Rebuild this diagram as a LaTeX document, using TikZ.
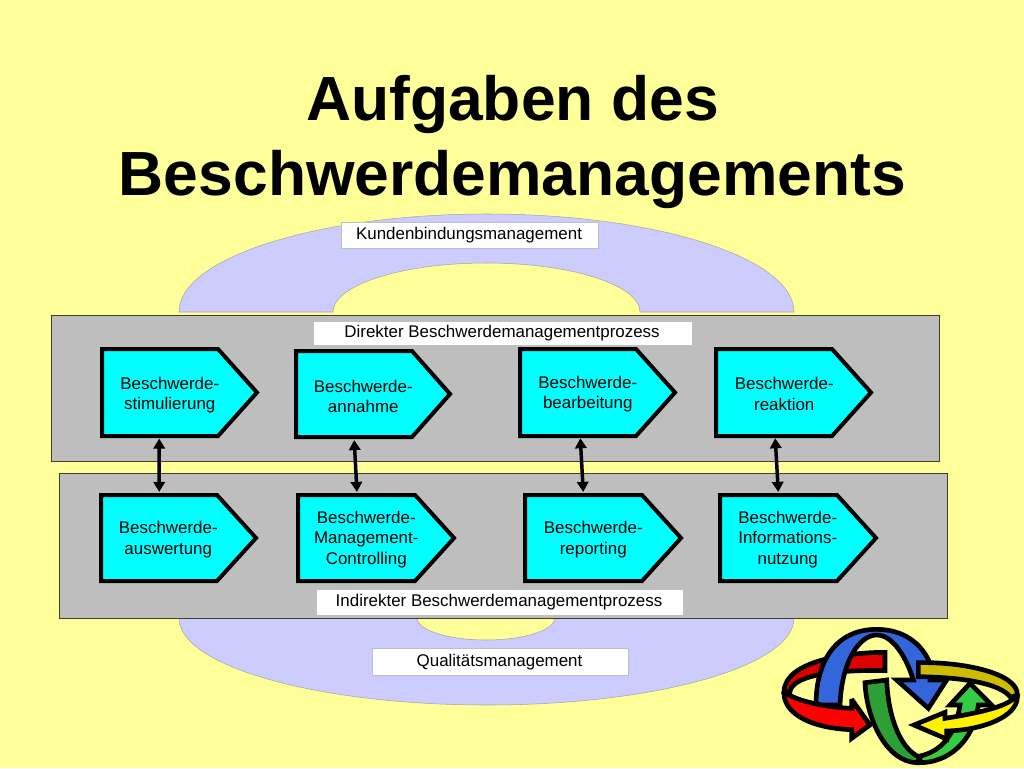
\documentclass[tikz,border=0pt]{standalone}
\usepackage{fontspec}
\setmainfont{Liberation Sans}
\definecolor{bgc}{HTML}{FFFF99}
\definecolor{ringc}{HTML}{CCCCFF}
\definecolor{panelc}{HTML}{BEBEBE}
\definecolor{stepc}{HTML}{00FFFF}
\definecolor{redback}{HTML}{DD0000}
\definecolor{blueband}{HTML}{3366DD}
\definecolor{greenlight}{HTML}{33CC44}
\definecolor{greendark}{HTML}{2CA035}
\definecolor{yellowback}{HTML}{CCBB00}
\usetikzlibrary{arrows.meta}
\tikzset{
  x=0.75pt,y=-0.75pt,
  titletext/.style={font=\fontsize{46.8pt}{56pt}\selectfont\bfseries,anchor=base,inner sep=0},
  ringband/.style={fill=ringc,draw=black!35,line width=0.4pt},
  panel/.style={fill=panelc,draw=black!75!bgc,line width=0.6pt},
  labelbox/.style={fill=white,draw=black!25,line width=0.5pt,font=\fontsize{12.7pt}{15.4pt}\selectfont,inner sep=0,anchor=north west,align=center},
  steplabel/.style={font=\fontsize{12.7pt}{15.4pt}\selectfont,inner sep=0,anchor=west,align=center,minimum height=65pt},
  stepshape/.style={fill=stepc,draw=black,line width=3pt,line join=miter},
  link/.style={line width=2.6pt,draw=black,{Triangle[length=7.5pt,width=8.5pt]}-{Triangle[length=7.5pt,width=8.5pt]}},
  logopart/.style={draw=black,line width=3.5pt,line join=miter,miter limit=3},
}
\newcommand{\lab}[1]{\raisebox{-1.3pt}{\kern-1.2pt #1}}
\newcommand{\stepbox}[8]{% name, left, top, shoulder, tip, bottom, text centre, text offset
  \draw[stepshape] (#2,#3) -- (#4,#3) -- (#5,{(#3+#6)/2}) -- (#4,#6) -- (#2,#6) -- cycle;
  \node[steplabel,minimum width={(#7-#2)*1.5pt}] (#1) at (#2,{(#3+#6)/2+#8}) {\steptext};
}
\begin{document}
\begin{tikzpicture}
\useasboundingbox[fill=bgc] (0,0) rectangle (1024,768);

\node[titletext] (title1) at (512.5,120) {Aufgaben des};
\node[titletext] (title2) at (512.5,195) {Beschwerdemanagements};

\path[ringband] (179,312) .. controls (179,258) and (317,214) .. (487,214)
  .. controls (657,214) and (794,258) .. (794,312) -- (640,312)
  .. controls (640,285) and (571,263) .. (486.5,263)
  .. controls (402,263) and (333,285) .. (333,312) -- cycle;
\path[ringband] (179,618) .. controls (179,666) and (317,705) .. (487,705)
  .. controls (657,705) and (794,666) .. (794,618) -- (555,618)
  .. controls (555,630) and (524,640) .. (486,640)
  .. controls (448,640) and (417,630) .. (417,618) -- cycle;

\path[panel] (51,315) rectangle (939,461);
\path[panel] (59,473) rectangle (947,618);

\node[labelbox,minimum width=192.75pt,minimum height=19.5pt] (kb) at (341,222) {\lab{Kundenbindungsmanagement}};
\node[labelbox,minimum width=284.25pt,minimum height=18pt] (dp) at (313,321) {\lab{Direkter Beschwerdemanagementprozess}};
\node[labelbox,minimum width=275.25pt,minimum height=19.5pt] (ip) at (316,589) {\lab{Indirekter Beschwerdemanagementprozess}};
\node[labelbox,minimum width=192pt,minimum height=20.25pt] (qm) at (372,648) {\lab{Qualitätsmanagement}};

\def\steptext{Beschwerde-\\stimulierung}\stepbox{s1}{102}{349}{218}{257}{436}{169.5}{2.5}
\def\steptext{Beschwerde-\\annahme}\stepbox{s2}{296}{351}{412}{450}{437}{363}{2.5}
\def\steptext{Beschwerde-\\bearbeitung}\stepbox{s3}{520}{349}{636}{675}{436}{587.5}{1.5}
\def\steptext{Beschwerde-\\reaktion}\stepbox{s4}{716}{349}{832}{871}{436}{784}{1.5}
\def\steptext{Beschwerde-\\auswertung}\stepbox{t1}{101}{495}{217}{256}{581}{168}{1.5}
\def\steptext{Beschwerde-\\Management-\\Controlling}\stepbox{t2}{298}{495}{415}{454}{581}{366}{1.5}
\def\steptext{Beschwerde-\\reporting}\stepbox{t3}{525}{495}{642}{681}{581}{593}{1.5}
\def\steptext{Beschwerde-\\Informations-\\nutzung}\stepbox{t4}{720}{495}{837}{876}{581}{787.5}{1.5}

\draw[link] ([xshift=-7.9pt]s1.south) -- ([xshift=-6.8pt,yshift=3pt]t1.north);
\draw[link] ([xshift=-6.8pt]s2.south) -- ([xshift=-7.0pt,yshift=3pt]t2.north);
\draw[link] ([xshift=-5.6pt,yshift=-0.5pt]s3.south) -- ([xshift=-7.5pt,yshift=3pt]t3.north);
\draw[link] ([xshift=-6.8pt,yshift=-0.5pt]s4.south) -- ([xshift=-7.1pt,yshift=3pt]t4.north);

\begin{scope}[shift={(770,620)},x=0.25pt,y=-0.25pt]
  % red, rear part
  \path[logopart,fill=redback] (345,97) .. controls (240,97) and (45,120) .. (42,215)
    -- (60,215) .. controls (65,170) and (180,148) .. (345,152) -- cycle;
  % blue ring with its head
  \path[logopart,fill=blueband] (138,255) .. controls (138,120) and (200,28) .. (320,28)
    .. controls (400,28) and (455,70) .. (480,130) -- (480,180) -- (530,180) -- (475,265) -- (380,180) -- (430,180)
    .. controls (410,115) and (370,45) .. (320,45) .. controls (270,45) and (215,120) .. (210,255) -- cycle;
  % green, bright part with head
  \path[logopart,fill=greenlight] (450,428) .. controls (530,428) and (610,370) .. (625,255) -- (665,255) -- (600,190) -- (540,255) -- (570,255)
    .. controls (555,350) and (510,395) .. (450,408) -- cycle;
  % green, dark part
  \path[logopart,fill=greendark] (285,188) -- (350,180) .. controls (355,300) and (395,390) .. (450,412) -- (440,428)
    .. controls (350,425) and (290,300) .. (285,188) -- cycle;
  % red, front part
  \path[logopart,fill=red] (42,222) .. controls (45,285) and (130,325) .. (245,329) -- (245,355) -- (300,315) -- (245,238) -- (245,265)
    .. controls (170,262) and (90,245) .. (52,222) -- cycle;
  % yellow, rear part
  \path[logopart,fill=yellowback] (445,128) .. controls (580,125) and (745,160) .. (742,225)
    -- (722,232) .. controls (690,190) and (580,172) .. (445,170) -- cycle;
  % yellow, front part
  \path[logopart,fill=yellow] (432,315) -- (525,277) -- (525,295) .. controls (620,280) and (700,262) .. (728,238)
    -- (742,232) .. controls (740,290) and (640,330) .. (530,333) -- (530,357) -- cycle;
\end{scope}
\end{tikzpicture}
\end{document}
